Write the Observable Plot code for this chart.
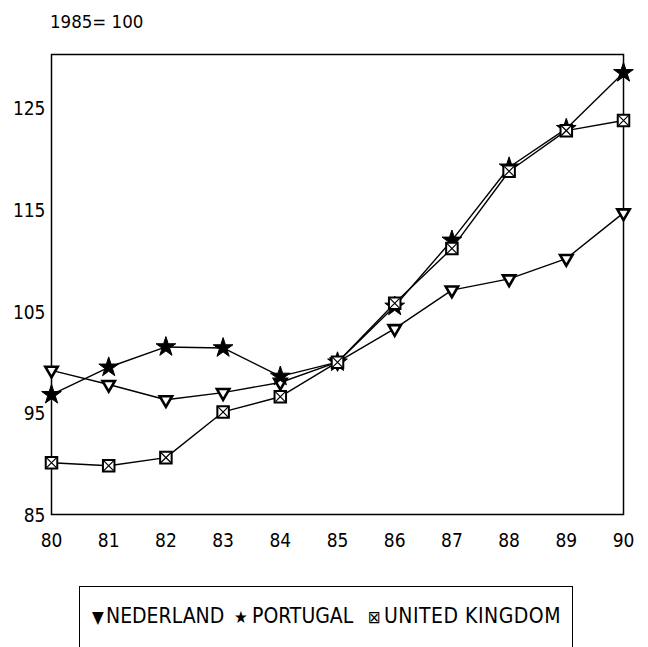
<!DOCTYPE html>
<html><head><meta charset="utf-8">
<script src="https://cdn.jsdelivr.net/npm/d3@7"></script>
<script src="https://cdn.jsdelivr.net/npm/@observablehq/plot@0.6"></script>
<style>
body{margin:0;background:#fff;font-family:"DejaVu Sans Condensed","Liberation Sans Narrow","Liberation Sans",sans-serif;font-stretch:condensed;color:#000;}
#title{height:40px;box-sizing:border-box;padding:12px 0 0 50px;font-size:18.5px;line-height:20px;}
#chart{height:520px;}
#chart svg{display:block;}
#legend{position:relative;margin:26px 0 0 79px;width:494px;height:61px;box-sizing:border-box;border:1.5px solid #000;border-bottom:none;font-size:21px;white-space:nowrap;}
#legend span{position:absolute;top:17px;line-height:24px;}
#legend span.s{font-family:"DejaVu Sans";font-size:17px;top:18px;}
</style></head>
<body>
<div id="title">1985= 100</div>
<div id="chart"></div>
<div id="legend">
<span class="s" style="left:12px">▼</span><span style="left:26px">NEDERLAND</span>
<span class="s" style="left:154px">★</span><span style="left:172px">PORTUGAL</span>
<span class="s" style="left:288px">⊠</span><span style="left:304px;letter-spacing:0.5px">UNITED KINGDOM</span>
</div>
<script>
const years = [80,81,82,83,84,85,86,87,88,89,90];
const nederland = [99.2,97.8,96.3,97.0,98.0,100,103.3,107.1,108.2,110.2,114.7];
const portugal = [96.8,99.5,101.5,101.4,98.6,100,105.5,112.0,119.2,123.0,128.5];
const unitedKingdom = [90.1,89.8,90.6,95.1,96.6,100,105.8,111.2,118.8,122.8,123.8];
const yTicks = [85,95,105,115,125];

const nl = years.map((x,i)=>({x,y:nederland[i]}));
const pt = years.map((x,i)=>({x,y:portugal[i]}));
const uk = years.map((x,i)=>({x,y:unitedKingdom[i]}));

const font = '"DejaVu Sans Condensed","Liberation Sans Narrow","Liberation Sans",sans-serif';
const chart = Plot.plot({
  width:648, height:520,
  marginLeft:51, marginRight:25, marginTop:14, marginBottom:46,
  style:{fontFamily:font, fontSize:"19px", fontStretch:"condensed", overflow:"visible"},
  x:{domain:[80,90], label:null},
  y:{domain:[85,130.3], label:null},
  marks:[
    Plot.frame({stroke:"#000", strokeWidth:1.5}),
    Plot.axisY({ticks:yTicks, tickSize:0, tickPadding:6, label:null, fontSize:19, dy:1}),
    Plot.axisX({ticks:years, tickSize:0, tickPadding:19, label:null, fontSize:19, tickFormat:d=>String(d)}),
    Plot.line(nl,{x:"x",y:"y",stroke:"#000",strokeWidth:1.4}),
    Plot.line(pt,{x:"x",y:"y",stroke:"#000",strokeWidth:1.4}),
    Plot.line(uk,{x:"x",y:"y",stroke:"#000",strokeWidth:1.4}),
    Plot.dot(nl,{x:"x",y:"y",symbol:"triangle",rotate:180,r:4.6,fill:"#fff",stroke:"#000",strokeWidth:2.6}),
    Plot.dot(pt,{x:"x",y:"y",symbol:"star",r:6.2,fill:"#000",stroke:"#000",strokeWidth:1}),
    Plot.dot(uk,{x:"x",y:"y",symbol:"square",r:6.5,fill:"#fff",stroke:"#000",strokeWidth:2}),
    Plot.dot(uk,{x:"x",y:"y",symbol:"times",r:4.5,stroke:"#000",strokeWidth:1.2})
  ]
});
document.getElementById("chart").appendChild(chart);
</script>
</body></html>
